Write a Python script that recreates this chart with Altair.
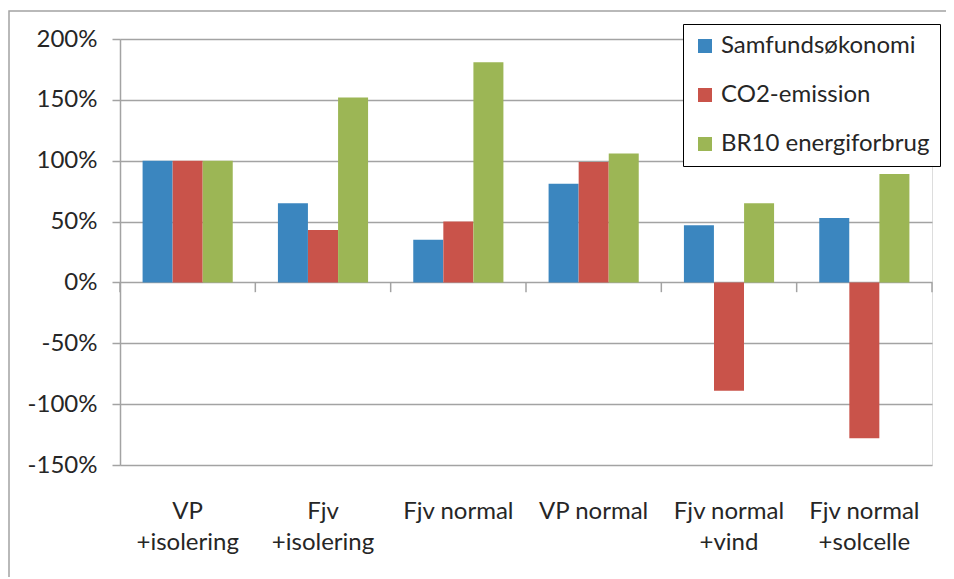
import altair as alt
import pandas as pd

categories = ["VP|+isolering", "Fjv|+isolering", "Fjv normal", "VP normal",
              "Fjv normal|+vind", "Fjv normal|+solcelle"]
series = ["Samfundsøkonomi", "CO2-emission", "BR10 energiforbrug"]
samfundsokonomi = [100, 65, 35, 81, 47, 53]
co2_emission = [100, 43, 50, 99, -89, -128]
br10_energiforbrug = [100, 152, 181, 106, 65, 89]
colors = ["#3B86BF", "#C9534A", "#9CB655"]
y_ticks = [-150, -100, -50, 0, 50, 100, 150, 200]

rows = []
for s, vals in zip(series, [samfundsokonomi, co2_emission, br10_energiforbrug]):
    for c, v in zip(categories, vals):
        rows.append({"cat": c, "series": s, "value": v})
df = pd.DataFrame(rows)

FONT = "Lato"
GRID = "#A3A3A3"
TXT = "#262626"

xscale = alt.Scale(domain=categories, paddingInner=0, paddingOuter=0)
yscale = alt.Scale(domain=[-150, 200], nice=False)

border = alt.Chart(pd.DataFrame({"k": [0]})).mark_rect(
    fill="white", fillOpacity=0, stroke=GRID, strokeWidth=1.5
).encode(
    x=alt.value(-111), x2=alt.value(900), y=alt.value(-28), y2=alt.value(700)
)

bars = alt.Chart(df).mark_bar(size=30).encode(
    x=alt.X("cat:N", scale=xscale, sort=categories,
            axis=alt.Axis(title=None, ticks=False, domain=False, grid=False,
                          labelAngle=0, labelFont=FONT, labelFontSize=24,
                          labelColor=TXT, labelPadding=34, labelLineHeight=31,
                          labelExpr="split(datum.label, '|')")),
    xOffset=alt.XOffset("series:N", sort=series,
                        scale=alt.Scale(domain=series, paddingOuter=0.75, paddingInner=0)),
    y=alt.Y("value:Q", scale=yscale,
            axis=alt.Axis(title=None, values=y_ticks, grid=True, gridColor=GRID,
                          gridWidth=1.5, domain=True, domainColor=GRID, domainWidth=1.5,
                          ticks=True, tickColor=GRID, tickSize=8, tickWidth=1.5,
                          labelFont=FONT, labelFontSize=24, labelColor=TXT,
                          labelPadding=15, labelExpr="datum.value + '%'")),
    color=alt.Color("series:N", sort=series,
                    scale=alt.Scale(domain=series, range=colors),
                    legend=alt.Legend(title=None, orient="none", legendX=563, legendY=-15,
                                      symbolType="square", symbolSize=196,
                                      symbolStrokeWidth=0, labelFont=FONT,
                                      labelFontSize=24, labelColor=TXT, labelOffset=4,
                                      rowPadding=25, padding=10,
                                      strokeColor="black", fillColor="white",
                                      labelLimit=400)),
)

sep_df = pd.DataFrame({"cat": categories})
seps = alt.Chart(sep_df).mark_rule(color=GRID, strokeWidth=1.5).encode(
    x=alt.X("cat:N", scale=xscale, sort=categories, bandPosition=0),
    y=alt.datum(0), y2=alt.datum(-8)
)
last_sep = alt.Chart(pd.DataFrame({"cat": [categories[-1]]})).mark_rule(
    color=GRID, strokeWidth=1.5).encode(
    x=alt.X("cat:N", scale=xscale, sort=categories, bandPosition=1),
    y=alt.datum(0), y2=alt.datum(-8)
)

chart = alt.layer(border, bars, seps, last_sep).properties(
    width=812, height=426,
    autosize=alt.AutoSizeParams(type="none"),
    padding={"left": 112, "top": 31, "right": 14, "bottom": 112},
).configure_view(stroke=None).configure(background="white")

chart.save("out.html", embed_options={"renderer": "svg", "actions": False})
